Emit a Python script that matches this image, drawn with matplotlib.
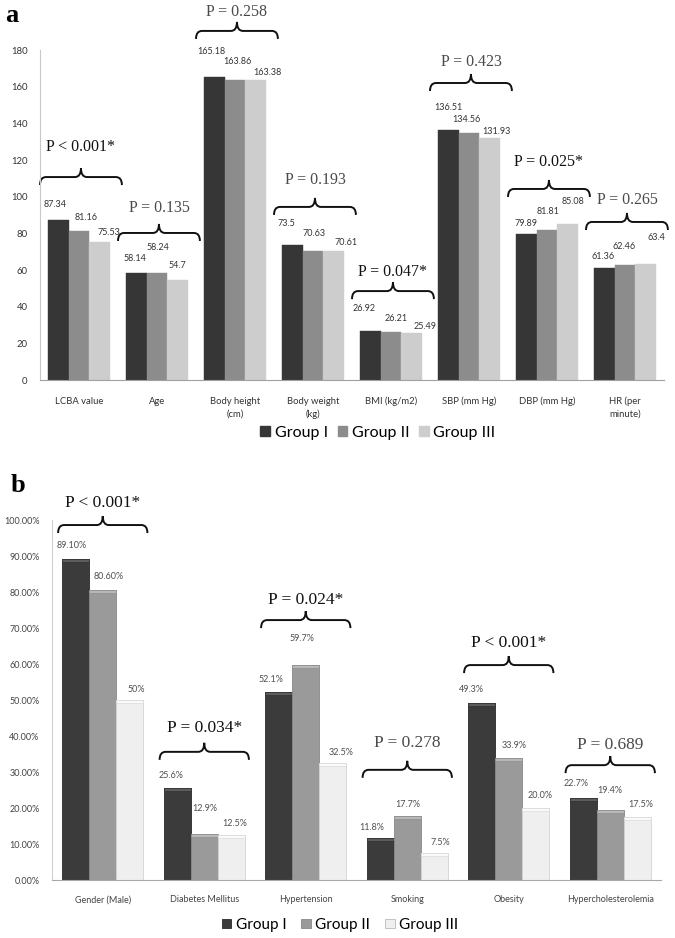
import numpy as np
import matplotlib.pyplot as plt
from matplotlib.path import Path
from matplotlib.patches import PathPatch, Patch

# ---- panel a: continuous variables
categories_a = ['LCBA value', 'Age', 'Body height\n(cm)', 'Body weight\n(kg)',
                'BMI (kg/m2)', 'SBP (mm Hg)', 'DBP (mm Hg)', 'HR (per\nminute)']
group1_a = [87.34, 58.14, 165.18, 73.5, 26.92, 136.51, 79.89, 61.36]
group2_a = [81.16, 58.24, 163.86, 70.63, 26.21, 134.56, 81.81, 62.46]
group3_a = [75.53, 54.7, 163.38, 70.61, 25.49, 131.93, 85.08, 63.4]
pvals_a = ['P < 0.001*', 'P = 0.135', 'P = 0.258', 'P = 0.193',
           'P = 0.047*', 'P = 0.423', 'P = 0.025*', 'P = 0.265']

# ---- panel b: categorical variables (%)
categories_b = ['Gender (Male)', 'Diabetes Mellitus', 'Hypertension',
                'Smoking', 'Obesity', 'Hypercholesterolemia']
group1_b = [89.1, 25.6, 52.1, 11.8, 49.3, 22.7]
group2_b = [80.6, 12.9, 59.7, 17.7, 33.9, 19.4]
group3_b = [50.0, 12.5, 32.5, 7.5, 20.0, 17.5]
labels1_b = ['89.10%', '25.6%', '52.1%', '11.8%', '49.3%', '22.7%']
labels2_b = ['80.60%', '12.9%', '59.7%', '17.7%', '33.9%', '19.4%']
labels3_b = ['50%', '12.5%', '32.5%', '7.5%', '20.0%', '17.5%']
pvals_b = ['P < 0.001*', 'P = 0.034*', 'P = 0.024*', 'P = 0.278',
           'P < 0.001*', 'P = 0.689']

groups = ['Group I', 'Group II', 'Group III']

# layout / styling (not data)
brace_y_a = [110.7, 80.2, 190.4, 94.4, 48.5, 162, 104.2, 86.2]
text_off_a = [30, 25, 19, 27, 19, 21, 27, 22]
brace_y_b = [98.6, 35.6, 72.2, 30.6, 59.7, 31.9]
text_off_b = [22, 24, 20, 27, 22, 20]
nudge_a = [[(-3, 15), (7, 14), (9, 9)], [(-1, 15), (1, 26), (0, 14)],
           [(-3, 26), (2, 18), (12, 8)], [(-6, 22), (1, 17), (12, 8)],
           [(-6, 22), (5, 13), (13, 7)], [(0, 22), (-3, 14), (7, 7)],
           [(0, 10), (1, 19), (5, 23)], [(-1, 11), (-1, 19), (11, 26)]]
nudge_b = [[(-4, 14), (6, 13), (7, 11)], [(-6, 12), (1, 25), (4, 12)],
           [(-8, 13), (-4, 27), (8, 11)], [(-9, 10), (1, 12), (6, 11)],
           [(-10, 13), (5, 12), (4, 13)], [(-7, 15), (0, 20), (4, 13)]]

colors_a = ['#363636', '#8c8c8c', '#cdcdcd']
colors_b = ['#3b3b3b', '#9a9a9a', '#efefef']
tops_b = ['#5c5c5c', '#b8b8b8', '#fafafa']

plt.rcParams['font.family'] = ['Lato', 'DejaVu Sans']
SERIF = 'Liberation Serif'

fig = plt.figure(figsize=(6.75, 9.38), dpi=100)
ax1 = fig.add_axes([40 / 675, 1 - 380 / 938, 624 / 675, 330 / 938])
ax2 = fig.add_axes([52 / 675, 1 - 880 / 938, 609 / 675, 360 / 938])

w = 0.265


def brace(ax, xc, y, left, right, label, size, off):
    bb = ax.get_window_extent()
    x0, x1 = ax.get_xlim()
    y0, y1 = ax.get_ylim()
    sx = (x1 - x0) / bb.width
    sy = (y1 - y0) / bb.height
    a = xc + left
    b = xc + right
    m = (a + b) / 2
    h = 8 * sy
    t = 9 * sy
    r = 6 * sx
    verts = [(a, y - h), (a, y), (a + r, y), (m - r, y), (m, y), (m, y + t),
             (m, y), (m + r, y), (b - r, y), (b, y), (b, y - h)]
    codes = [Path.MOVETO, Path.CURVE3, Path.CURVE3, Path.LINETO, Path.CURVE3,
             Path.CURVE3, Path.CURVE3, Path.CURVE3, Path.LINETO, Path.CURVE3,
             Path.CURVE3]
    ax.add_patch(PathPatch(Path(verts, codes), fill=False, lw=1.4,
                           ec='#111111', clip_on=False))
    col = '#111111' if '*' in label else '#4a4a4a'
    ax.annotate(label, (m, y), xytext=(0, off), textcoords='offset pixels',
                ha='center', va='center', family=SERIF, fontsize=size,
                color=col, annotation_clip=False)


# ---------------- panel a
x = np.arange(len(categories_a))
series_a = [group1_a, group2_a, group3_a]
for g, vals in enumerate(series_a):
    xs = x + (g - 1) * w
    ax1.bar(xs, vals, width=w, color=colors_a[g], edgecolor=colors_a[g], lw=0.3)
    for i, v in enumerate(vals):
        dx, dy = nudge_a[i][g]
        ax1.annotate(str(v), (xs[i], v), xytext=(dx, dy), textcoords='offset pixels',
                     ha='center', va='center', fontsize=6.5, color='#333333')

ax1.set_xlim(-0.5, 7.5)
ax1.set_ylim(0, 180)
ax1.set_yticks(range(0, 181, 20))
ax1.set_xticks(x)
ax1.set_xticklabels(categories_a, fontsize=6.8, color='#333333', linespacing=1.5)
ax1.tick_params(length=0, labelsize=6.8, labelcolor='#333333')
ax1.tick_params(axis='y', pad=9)
ax1.tick_params(axis='x', pad=12)
for s in ['top', 'right']:
    ax1.spines[s].set_visible(False)
ax1.spines['left'].set_color('#c8c8c8')
ax1.spines['bottom'].set_color('#a0a0a0')

for i, p in enumerate(pvals_a):
    brace(ax1, x[i], brace_y_a[i], -0.5, 0.55, p, 11.5, text_off_a[i])

fig.text(5 / 675, 1 - 15 / 938, 'a', family=SERIF, fontweight='bold',
         fontsize=19, va='center', ha='left')

handles_a = [Patch(color=c) for c in colors_a]
fig.legend(handles_a, groups, loc='center', bbox_to_anchor=(378 / 675, 1 - 433 / 938),
           ncol=3, frameon=False, fontsize=11.5, handlelength=0.6, handleheight=0.6,
           handletextpad=0.3, columnspacing=0.6)

# ---------------- panel b
xb = np.arange(len(categories_b))
series_b = [group1_b, group2_b, group3_b]
labels_b = [labels1_b, labels2_b, labels3_b]
strip = 3 * 100 / 360
for g, vals in enumerate(series_b):
    xs = xb + (g - 1) * w
    ec = '#d4d4d4' if g == 2 else '#2a2a2a' if g == 0 else '#888888'
    ax2.bar(xs, vals, width=w, color=colors_b[g], edgecolor=ec, lw=0.6)
    ax2.bar(xs, strip, bottom=np.array(vals) - strip, width=w, color=tops_b[g],
            edgecolor=ec, lw=0.4)
    for i, v in enumerate(vals):
        dx, dy = nudge_b[i][g]
        ax2.annotate(labels_b[g][i], (xs[i], v), xytext=(dx, dy),
                     textcoords='offset pixels', ha='center', va='center',
                     fontsize=6.5, color='#505050')

ax2.set_xlim(-0.5, 5.5)
ax2.set_ylim(0, 100)
yt = np.arange(0, 101, 10)
ax2.set_yticks(yt)
ax2.set_yticklabels([f'{t:.2f}%' for t in yt])
ax2.set_xticks(xb)
ax2.set_xticklabels(categories_b)
ax2.tick_params(length=0, labelsize=6.5, labelcolor='#444444')
ax2.tick_params(axis='y', pad=9)
ax2.tick_params(axis='x', pad=11)
for s in ['top', 'right']:
    ax2.spines[s].set_visible(False)
ax2.spines['left'].set_color('#d0d0d0')
ax2.spines['bottom'].set_color('#a8a8a8')

for i, p in enumerate(pvals_b):
    brace(ax2, xb[i], brace_y_b[i], -0.44, 0.44, p, 12.5, text_off_b[i])

fig.text(11 / 675, 1 - 485 / 938, 'b', family=SERIF, fontweight='bold',
         fontsize=19, va='center', ha='left')

handles_b = [Patch(facecolor=c, edgecolor=e, lw=0.6)
             for c, e in zip(colors_b, ['#2a2a2a', '#888888', '#bbbbbb'])]
fig.legend(handles_b, groups, loc='center', bbox_to_anchor=(340 / 675, 1 - 925 / 938),
           ncol=3, frameon=False, fontsize=11, handlelength=0.6, handleheight=0.6,
           handletextpad=0.3, columnspacing=1.0)

fig.savefig('out.png', dpi=100)
